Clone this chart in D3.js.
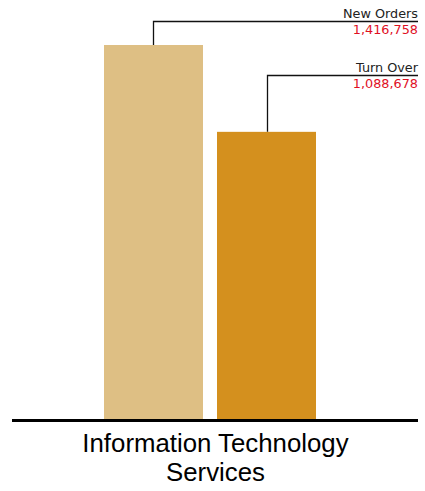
<!DOCTYPE html>
<html>
<head>
<meta charset="utf-8">
<script src="https://cdn.jsdelivr.net/npm/d3@7"></script>
<style>
  html, body { margin: 0; padding: 0; background: #fff; }
  svg { display: block; }
</style>
</head>
<body>
<svg id="chart" width="425" height="491"></svg>
<script>
// Data
const category = ["Information Technology", "Services"];
const seriesNames = ["New Orders", "Turn Over"];
const seriesValues = [1416758, 1088678];
const seriesColors = ["#DEBF84", "#D4901E"];

const W = 425, H = 491;
const baseY = 420;
const svg = d3.select("#chart");

const x = d3.scaleBand()
  .domain(seriesNames)
  .range([104, 316])
  .paddingInner(0.124)
  .paddingOuter(0);

const y = d3.scaleLinear()
  .domain([0, d3.max(seriesValues)])
  .range([baseY, 45]);

const data = seriesNames.map((n, i) => ({ name: n, value: seriesValues[i], color: seriesColors[i] }));

// Bars
svg.selectAll("rect.bar")
  .data(data)
  .join("rect")
  .attr("class", "bar")
  .attr("x", d => x(d.name))
  .attr("y", d => y(d.value))
  .attr("width", x.bandwidth())
  .attr("height", d => baseY - y(d.value))
  .attr("fill", d => d.color);

// Baseline
svg.append("line")
  .attr("x1", 12).attr("x2", 418)
  .attr("y1", baseY + 0.5).attr("y2", baseY + 0.5)
  .attr("stroke", "#000").attr("stroke-width", 3);

// Leader lines with labels, right aligned
const labelRight = 418;
const leaderY = [21, 75];
const leaders = svg.selectAll("g.leader")
  .data(data)
  .join("g")
  .attr("class", "leader");

leaders.append("path")
  .attr("d", (d, i) => {
    const cx = Math.round(x(d.name) + x.bandwidth() / 2) + 0.5;
    const ly = leaderY[i] + 0.5;
    return `M${cx},${y(d.value)}V${ly}H${labelRight}`;
  })
  .attr("fill", "none")
  .attr("stroke", "#111")
  .attr("stroke-width", 1.3);

leaders.append("text")
  .attr("x", labelRight)
  .attr("y", (d, i) => leaderY[i] - 3)
  .attr("text-anchor", "end")
  .attr("font-family", "Verdana, 'DejaVu Sans', sans-serif")
  .attr("font-size", 12.8)
  .attr("fill", "#222")
  .text(d => d.name);

leaders.append("text")
  .attr("x", labelRight)
  .attr("y", (d, i) => leaderY[i] + 13)
  .attr("text-anchor", "end")
  .attr("font-family", "Verdana, 'DejaVu Sans', sans-serif")
  .attr("font-size", 12.8)
  .attr("fill", "#E0101F")
  .text(d => d3.format(",")(d.value));

// Category label
svg.append("text")
  .attr("text-anchor", "middle")
  .attr("font-family", "Arial, 'Liberation Sans', sans-serif")
  .attr("font-size", 25.8)
  .attr("fill", "#000")
  .selectAll("tspan")
  .data(category)
  .join("tspan")
  .attr("x", 215.5)
  .attr("y", (d, i) => 452 + i * 29)
  .text(d => d);
</script>
</body>
</html>
